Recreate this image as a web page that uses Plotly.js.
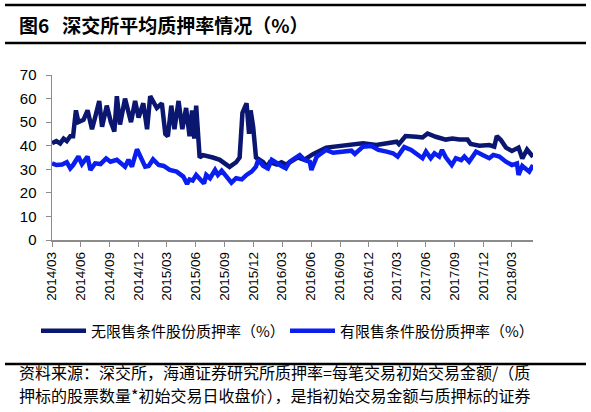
<!DOCTYPE html>
<html>
<head>
<meta charset="utf-8">
<script src="https://cdn.plot.ly/plotly-3.0.1.min.js"></script>
<style>html,body{margin:0;padding:0;background:#fff;}#chart{width:591px;height:412px;}</style>
</head>
<body>
<div id="chart"></div>
<script>
// ---- data ----
const darkDates = ["2014-03-01","2014-03-15","2014-03-27","2014-04-07","2014-04-17","2014-04-28","2014-05-07","2014-05-16","2014-05-24","2014-06-09","2014-06-22","2014-07-06","2014-07-16","2014-07-29","2014-08-07","2014-08-22","2014-09-04","2014-09-15","2014-09-23","2014-10-03","2014-10-19","2014-11-07","2014-11-20","2014-12-01","2014-12-16","2014-12-28","2015-01-07","2015-01-28","2015-02-13","2015-02-24","2015-03-04","2015-03-15","2015-03-25","2015-04-07","2015-04-19","2015-05-01","2015-05-12","2015-05-20","2015-05-27","2015-06-02","2015-06-13","2015-06-24","2015-07-25","2015-08-16","2015-09-16","2015-10-07","2015-10-18","2015-10-27","2015-11-09","2015-11-17","2015-11-22","2015-11-30","2015-12-09","2015-12-21","2016-01-01","2016-01-12","2016-01-22","2016-02-13","2016-02-28","2016-03-13","2016-04-04","2016-04-19","2016-05-10","2016-06-07","2016-07-19","2016-09-01","2016-10-02","2016-11-13","2016-12-25","2017-02-06","2017-02-28","2017-03-07","2017-03-28","2017-05-01","2017-05-21","2017-06-06","2017-07-02","2017-08-03","2017-08-24","2017-09-15","2017-10-11","2017-10-21","2017-11-18","2017-12-19","2018-01-04","2018-01-12","2018-01-25","2018-02-10","2018-03-01","2018-03-22","2018-04-03","2018-04-18","2018-05-07"];
const darkValues = [41,42,41,43,42,44,44,55,50,51,55,47,52,59,48,57,50,46,61,49,60,50,59,52,58,47,61,56,58,45,44,57,47,59,47,56,44,55,43,57,35,36,35,34,31,33,35,54,58,45,55,48,35,34,33,31,33,32,33,32,34,35,34,36.4,39.2,40,40.7,41,40.3,41,41.7,40.7,44.1,43.8,43.5,45.2,43.8,42.6,43,42.6,42.6,40.7,40,40.3,39.6,44.1,42.4,39.2,37.8,39.2,34.6,38.4,35.3];

const blueDates = ["2014-03-01","2014-03-15","2014-04-02","2014-04-17","2014-04-28","2014-05-07","2014-05-24","2014-06-04","2014-06-22","2014-07-01","2014-07-16","2014-08-02","2014-08-20","2014-09-03","2014-09-23","2014-10-09","2014-10-19","2014-10-30","2014-11-10","2014-11-26","2014-12-06","2014-12-22","2015-01-02","2015-01-16","2015-02-03","2015-02-19","2015-03-10","2015-04-01","2015-04-22","2015-05-04","2015-05-12","2015-05-22","2015-06-02","2015-06-13","2015-06-27","2015-07-04","2015-07-16","2015-08-01","2015-08-10","2015-08-22","2015-09-07","2015-09-22","2015-10-07","2015-10-25","2015-11-09","2015-11-25","2015-12-09","2015-12-16","2016-01-01","2016-01-16","2016-01-28","2016-02-13","2016-02-28","2016-03-13","2016-03-25","2016-04-10","2016-04-19","2016-04-26","2016-05-12","2016-05-28","2016-06-02","2016-06-19","2016-07-04","2016-07-19","2016-08-10","2016-09-11","2016-10-07","2016-10-18","2016-11-13","2016-12-10","2017-01-01","2017-01-27","2017-02-16","2017-03-03","2017-03-24","2017-04-15","2017-05-05","2017-05-21","2017-06-01","2017-06-16","2017-06-28","2017-07-13","2017-07-22","2017-08-03","2017-08-22","2017-09-04","2017-09-21","2017-10-01","2017-10-16","2017-11-07","2017-11-28","2017-12-19","2018-01-01","2018-01-20","2018-02-10","2018-03-01","2018-03-17","2018-03-22","2018-04-03","2018-04-25","2018-05-07"];
const blueValues = [32.5,31.8,32,33,30.4,31.8,35.4,32.2,35.4,29.7,32.5,32.2,34.6,33.2,34,32.5,31.1,34,31.1,38.5,35.4,31.1,31.4,34.2,31.8,31.4,29.7,29,26.9,23.8,25.7,25.2,27.6,26.2,24,27.6,26.2,29.7,27.6,29.4,26.9,24.3,26.2,25.7,27.6,29,31.1,34,31.4,30.4,34,32.5,31.4,30.4,33.2,34.6,35.4,36,33.9,33.2,29.7,35.4,36.8,38.2,37,37.5,37.9,36.5,39.6,39.9,38.2,37.5,36.8,35.4,39.4,38.2,36.1,34.7,37.5,34.7,36.8,35.4,38.2,35.1,31.8,34.7,33.9,35.4,33.2,37.5,36.1,34.7,36.1,35.4,33.2,31.8,32.5,27.6,31.4,29,31.8];

const seriesNames = ["无限售条件股份质押率（%）", "有限售条件股份质押率（%）"];
const tickDates = ["2014-03-01","2014-06-01","2014-09-01","2014-12-01","2015-03-01","2015-06-01","2015-09-01","2015-12-01","2016-03-01","2016-06-01","2016-09-01","2016-12-01","2017-03-01","2017-06-01","2017-09-01","2017-12-01","2018-03-01"];
const tickLabels = ["2014/03","2014/06","2014/09","2014/12","2015/03","2015/06","2015/09","2015/12","2016/03","2016/06","2016/09","2016/12","2017/03","2017/06","2017/09","2017/12","2018/03"];
const chartTitle = "图6\u00a0\u00a0\u00a0深交所平均质押率情况（%）";
const sourceLine1 = "资料来源：深交所，海通证券研究所质押率=每笔交易初始交易金额/（质";
const sourceLine2 = "押标的股票数量*初始交易日收盘价），是指初始交易金额与质押标的证券";

// ---- layout helpers ----
const L = 52, R = 533, T = 75, B = 240, W = 591, H = 412;
const px = x => (x - L) / (R - L);
const py = y => (B - y) / (B - T);
const CJK = '"Noto Sans CJK SC", "Noto Sans", sans-serif';
const LAT = '"Liberation Sans", Arial, sans-serif';

const traces = [
  {x: darkDates, y: darkValues, name: seriesNames[0], type: 'scatter', mode: 'lines',
   line: {color: '#0b1670', width: 4.5}},
  {x: blueDates, y: blueValues, name: seriesNames[1], type: 'scatter', mode: 'lines',
   line: {color: '#0a1ef0', width: 4.5}}
];

const layout = {
  width: W, height: H,
  margin: {l: L, r: W - R, t: T, b: H - B},
  paper_bgcolor: '#fff', plot_bgcolor: '#fff',
  showlegend: true,
  legend: {orientation: 'h', x: px(36), y: py(331), xanchor: 'left', yanchor: 'middle',
    font: {family: CJK, size: 15, color: '#000'}, entrywidth: 189, entrywidthmode: 'pixels',
    itemwidth: 45, bgcolor: 'rgba(0,0,0,0)'},
  xaxis: {type: 'date', range: ['2014-03-01', '2018-05-07'], tickmode: 'array',
    tickvals: tickDates, ticktext: tickLabels, tickangle: -90,
    showline: true, linecolor: '#8c8c8c', linewidth: 1.5, ticks: 'outside', ticklen: 5,
    tickcolor: '#8c8c8c', showgrid: false, zeroline: false,
    tickfont: {family: LAT, size: 13.5, color: '#000'}},
  yaxis: {range: [0, 70], dtick: 10, tick0: 0, showline: true, linecolor: '#8c8c8c', linewidth: 1.5,
    ticks: 'outside', ticklen: 5, tickcolor: '#8c8c8c', showgrid: false, zeroline: false,
    ticklabelstandoff: 6, tickfont: {family: LAT, size: 15, color: '#000'}},
  shapes: [
    {type: 'line', xref: 'paper', yref: 'paper', x0: px(5), x1: px(586), y0: py(5), y1: py(5), line: {color: '#000', width: 2.5}},
    {type: 'line', xref: 'paper', yref: 'paper', x0: px(5), x1: px(586), y0: py(43), y1: py(43), line: {color: '#000', width: 2.5}},
    {type: 'line', xref: 'paper', yref: 'paper', x0: px(5), x1: px(586), y0: py(364), y1: py(364), line: {color: '#000', width: 2.5}}
  ],
  annotations: [
    {text: '<b>' + chartTitle + '</b>', xref: 'paper', yref: 'paper', x: px(17), y: py(24),
     xanchor: 'left', yanchor: 'middle', showarrow: false, font: {family: CJK, size: 19, color: '#000'}},
    {text: sourceLine1, xref: 'paper', yref: 'paper', x: px(17), y: py(372),
     xanchor: 'left', yanchor: 'middle', showarrow: false, font: {family: CJK, size: 16, color: '#000'}},
    {text: sourceLine2, xref: 'paper', yref: 'paper', x: px(17), y: py(395),
     xanchor: 'left', yanchor: 'middle', showarrow: false, font: {family: CJK, size: 16, color: '#000'}}
  ]
};

Plotly.newPlot('chart', traces, layout, {displayModeBar: false, staticPlot: true});
</script>
</body>
</html>
